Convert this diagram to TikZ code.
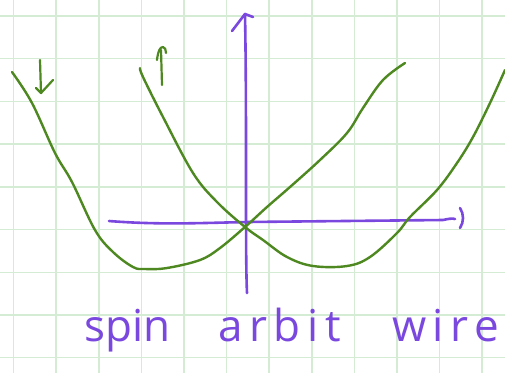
\documentclass[tikz,border=0pt]{standalone}
\usepackage{fontspec}
\setmainfont{Open Sans}
\definecolor{gridc}{RGB}{212,236,212}
\definecolor{penp}{RGB}{122,72,222}
\definecolor{peng}{RGB}{78,136,32}
\tikzset{
  gridline/.style={draw=gridc, line width=1.3pt},
  gridthick/.style={draw=gridc, line width=2.6pt},
  axis/.style={draw=penp, line width=2.6pt, line cap=round, line join=round},
  band/.style={draw=peng, line width=2.4pt, line cap=round, line join=round},
  word/.style={text=penp, font=\fontsize{44}{50}\selectfont, anchor=base west, inner sep=0pt}
}
\begin{document}
\begin{tikzpicture}[x=1pt,y=-1pt]
\useasboundingbox (0,0) rectangle (505,373);
\fill[white] (0,0) rectangle (505,373);
% grid
\foreach \i in {0,...,11} {
  \pgfmathsetmacro\gx{13.5+42.6*\i}
  \draw[gridline] (\gx,0) -- (\gx,373);
}
\foreach \j in {0,...,8} {
  \pgfmathsetmacro\gy{16+42.7*\j}
  \draw[gridline] (0,\gy) -- (505,\gy);
}
\draw[gridthick] (99,0) -- (99,373);
\draw[gridthick] (312,0) -- (312,373);
\draw[gridthick] (0,187) -- (505,187);
% axes
\coordinate (vb) at (247,293);
\coordinate (vt) at (245,14);
\coordinate (hl) at (109,221);
\coordinate (hr) at (455,219);
\draw[axis] (vb) .. controls (245,250) and (247,120) .. (vt);
\draw[axis] (232,31) -- (vt) -- (253,17);
\draw[axis] (hl) .. controls (160,225) and (200,223) .. (247,222) -- (443,220) .. controls (448,219) and (452,218) .. (hr);
\draw[axis] (460,208) .. controls (464,214) and (464,222) .. (460,228);
% bands
\draw[band] plot[smooth, tension=0.6] coordinates {(12,72) (32,103) (55,153) (72,182) (95,230) (113,252) (133,267) (145,269) (167,268) (200,260) (220,248) (245,227) (267,207) (290,187) (320,160) (347,133) (363,108) (383,80) (405,63)};
\draw[band] plot[smooth, tension=0.6] coordinates {(140,68) (143,77) (163,117) (193,173) (217,202) (245,227) (263,240) (287,257) (313,266) (347,266) (370,257) (397,233) (410,217) (437,190) (457,163) (473,137) (490,103) (505,70)};
% spin arrows
\draw[band, line width=2.2pt] (40,60) -- (41,93);
\draw[band, line width=2.2pt] (36,88) -- (41,93) -- (53,80);
\draw[band, line width=2.2pt] (162,85) -- (161,50);
\draw[band, line width=2.2pt] (157,60) .. controls (158,51) and (160,47) .. (163,47) .. controls (165,47) and (166,50) .. (166,53);
% labels
\node[word] (w1) at (84,341) {spin};
\node[word] (w2) at (218,341) {\addfontfeatures{LetterSpace=15}arbit};
\node[word] (w3) at (392,341) {\addfontfeatures{LetterSpace=15}wire};
\end{tikzpicture}
\end{document}
